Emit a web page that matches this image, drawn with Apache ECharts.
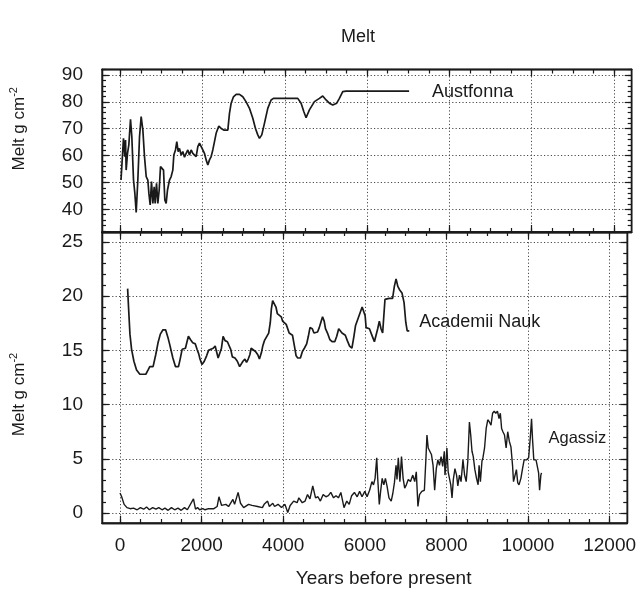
<!DOCTYPE html>
<html><head><meta charset="utf-8">
<script src="https://cdn.jsdelivr.net/npm/echarts@6/dist/echarts.min.js"></script>
<style>html,body{margin:0;padding:0;background:#fff}#c{width:639px;height:592px}</style>
</head><body><div id="c"></div>
<script>
// ---- tick values ----
const xTickValues = [0, 2000, 4000, 6000, 8000, 10000, 12000];
const topTickValues = [40, 50, 60, 70, 80, 90];
const bottomTickValues = [0, 5, 10, 15, 20, 25];

// ---- Austfonna (top panel) ----
const austfonnaYears = [20,80,113,130,145,178,210,251,283,324,356,389,429,470,510,551,591,632,672,697,729,761,794,826,850,883,915,948,980,1020,1053,1085,1117,1150,1198,1239,1279,1304,1344,1376,1409,1441,1482,1522,1563,1603,1644,1684,1725,1765,1806,1846,1887,1927,1968,2008,2049,2089,2130,2170,2211,2251,2292,2332,2397,2454,2518,2616,2656,2697,2753,2818,2899,2980,3061,3142,3223,3288,3344,3385,3441,3506,3587,3668,3725,4316,4397,4462,4518,4599,4721,4842,4923,5004,5085,5166,5263,5328,5409,5490,7022];
const austfonnaMelt = [50.9,66.4,59.6,65.8,54.6,60.8,64,73.5,67,50.9,46,38.8,50.9,67,74.5,69.5,59.6,52.2,50.9,46,41.6,50.3,42.2,48.4,42.2,49.7,42.2,47.2,55.9,56.5,54.6,43.5,42.2,47.2,50.9,52.2,54.6,60.2,62.1,65.2,61.5,62.7,60.2,61.5,59.4,60.8,62.1,60.2,62.1,60.8,61.5,59.6,63.3,64.6,64,62.1,60.8,58.4,56.5,58.4,59.6,62.1,65.2,68.3,71,70.1,69.5,69.5,75.7,79.5,81.9,82.8,82.8,81.9,80,77.6,73.9,70.1,67.7,66.4,67.7,72,77.6,80.7,81.3,81.3,79.5,76.4,74.1,77,80.1,81.3,82.2,80.7,79.5,78.8,79.5,81.3,83.8,84,84];

// ---- Academii Nauk (bottom panel) ----
const academiiYears = [186,211,243,283,340,405,486,567,632,689,729,810,875,931,988,1053,1117,1174,1214,1255,1295,1360,1433,1474,1522,1555,1603,1636,1676,1725,1782,1846,1887,1927,1960,2008,2065,2122,2170,2227,2284,2332,2365,2405,2454,2486,2526,2575,2632,2672,2713,2753,2818,2875,2932,2972,3013,3061,3101,3142,3182,3214,3263,3320,3377,3417,3466,3498,3539,3587,3644,3684,3709,3741,3782,3822,3855,3903,3952,3984,4033,4073,4114,4146,4186,4227,4275,4316,4356,4421,4470,4518,4575,4616,4656,4713,4753,4794,4842,4883,4923,4964,5004,5036,5085,5142,5198,5263,5312,5360,5401,5441,5482,5522,5571,5627,5684,5733,5773,5830,5887,5935,5976,6008,6032,6073,6113,6154,6194,6235,6275,6316,6356,6397,6437,6478,6494,6596,6681,6724,6766,6809,6851,6911,6962,7004,7039,7090];
const academiiMelt = [20.7,18.8,16.5,15.1,14.0,13.2,12.8,12.8,12.8,13.2,13.5,13.5,14.6,15.7,16.5,16.9,16.9,16.2,15.6,15.6,14.3,13.5,13.5,14.2,15.1,15.2,15.2,15.7,16.3,16.0,15.7,15.6,15.1,14.7,14.2,13.7,14.0,14.5,15.0,15.1,15.2,15.4,14.9,14.3,14.3,15.2,16.3,15.9,15.8,15.8,15.1,14.4,14.3,14.0,13.5,13.5,14.0,14.2,13.9,14.2,14.6,15.2,15.1,14.9,14.6,14.2,14.8,15.4,15.9,16.0,16.6,17.6,18.8,19.6,19.6,19.0,18.4,18.4,18.1,17.7,17.6,17.4,17.3,16.6,16.5,16.4,15.4,14.5,14.3,14.3,14.9,15.2,15.6,16.3,17.1,17.0,16.6,16.5,16.7,17.1,17.6,18.1,17.7,17.0,16.6,16.0,15.8,15.8,16.3,17.0,16.9,16.6,16.5,16.4,15.9,15.4,15.2,16.3,17.3,17.9,18.5,19.0,19.0,18.2,17.1,17.1,17.0,17.0,16.2,15.8,15.8,17.0,17.7,17.0,16.6,16.6,19.7,19.8,19.8,20.9,21.6,20.9,20.6,20.3,19.4,17.6,16.8,16.8];

// ---- Agassiz (bottom panel) ----
const agassizYears = [0,40,100,170,250,330,420,500,580,650,720,800,880,950,1030,1100,1180,1260,1340,1420,1500,1580,1650,1800,1850,1900,1950,2030,2085,2170,2300,2380,2425,2490,2595,2660,2766,2808,2894,2953,3030,3150,3235,3370,3490,3532,3617,3660,3745,3788,3873,3958,4043,4111,4170,4256,4341,4383,4468,4536,4596,4655,4724,4792,4851,4911,4979,5047,5107,5166,5234,5294,5353,5413,5490,5558,5617,5677,5745,5813,5873,5932,6000,
  6055,6118,6174,6213,6252,6292,6316,6355,6387,6426,6466,6505,6544,6592,6647,6686,6726,6765,6789,6821,6860,6899,6939,6978,7018,7065,7120,7176,7223,7262,7302,7341,7397,7460,7499,7523,7554,7594,7633,7673,7712,7752,7791,7830,7870,7909,7949,7965,7988,8012,8043,8075,8107,8138,8170,8209,8249,8280,8320,8359,8406,8446,8485,8525,8564,8596,8627,8659,8698,8738,8777,8801,8833,8872,8896,8935,8975,9014,9053,9093,9132,9172,9211,9251,9290,9322,9353,9385,9424,9464,9503,9543,9582,9621,9645,9684,9716,9748,9779,9826,9866,9905,9960,10016,10055,10087,10110,10142,10197,10237,10260,10284,10315,10331];
const agassizMelt = [1.85,1.5,0.8,0.5,0.4,0.45,0.3,0.5,0.35,0.55,0.3,0.5,0.35,0.5,0.3,0.45,0.25,0.5,0.3,0.45,0.25,0.5,0.3,1.3,0.35,0.5,0.3,0.4,0.3,0.4,0.4,0.6,1.5,0.7,0.8,0.6,1.25,0.8,1.9,0.9,0.5,0.8,0.7,0.6,0.5,0.8,1.1,0.6,0.9,0.6,0.8,0.5,0.8,0.05,0.7,1.1,0.95,1.4,0.95,1.1,1.7,1.3,2.5,1.4,1.5,1.1,1.7,1.5,1.6,1.9,1.4,1.6,1.4,1.9,0.5,1.1,0.8,1.6,1.9,1.5,2.0,1.5,2.0,
  1.5,2.1,2.9,2.6,3.2,5.1,3.2,0.8,2.0,3.2,2.6,3.2,2.5,1.4,1.1,1.8,2.8,4.4,3.1,5.1,2.9,5.2,3.2,2.3,2.6,3.1,2.9,3.5,2.9,3.8,0.6,1.7,2.0,2.1,5.1,7.2,6.0,6.1,5.4,4.4,2.1,4.1,4.9,4.4,5.2,4.3,5.7,3.5,4.4,6.0,3.8,3.2,2.6,1.4,3.1,4.1,3.5,2.5,3.5,2.9,4.9,3.5,2.9,4.8,8.4,7.2,5.7,5.2,4.0,3.2,2.6,4.4,2.9,4.8,5.1,6.0,7.8,8.6,8.4,8.1,9.2,9.4,9.2,9.4,8.7,9.2,7.8,7.5,7.2,6.0,7.5,6.6,6.1,4.4,2.9,2.8,4.0,2.8,2.6,3.2,4.1,4.9,4.9,5.1,6.9,8.7,6.9,4.9,4.9,4.8,3.7,2.1,3.5,3.7];

const zip = (a, b) => a.map((v, i) => [v, b[i]]);
const steps = (from, to, step) => { const r = []; for (let v = from; v <= to + 1e-9; v += step) r.push(+v.toFixed(3)); return r; };

const FONT = 'Liberation Sans, Arial, Helvetica, sans-serif';
const INK = '#1a1a1a';
const X_MIN = -442, X_MAX = 12432;
const TOP_MIN = 31.55, TOP_MAX = 92.05;
const BOT_MIN = -0.92, BOT_MAX = 25.92;

const xMinor = steps(0, 12000, 500);
const topMinor = steps(32, 92, 2);
const botMinor = steps(0, 25, 1);

const dotted = { color: '#4a4a4a', width: 1, type: [1.2, 2.2] };
const plain = v => String(v);

function ax(grid, pos, min, max, ticks, len, extra) {
  const o = {
    type: 'value', gridIndex: grid, position: pos, min: min, max: max,
    axisLine: { show: true, onZero: false, lineStyle: { color: INK, width: 1.3 } },
    axisTick: { show: true, inside: true, length: len, customValues: ticks, lineStyle: { color: INK, width: 1.2 } },
    axisLabel: { show: false },
    splitLine: { show: false },
    minorTick: { show: false }
  };
  return Object.assign(o, extra || {});
}

const yName = {
  nameLocation: 'middle', nameGap: 72, nameRotate: 90,
  name: '{a|Melt g cm}{b|-2}'
};
function yNameStyle(pad) {
  return {
    fontFamily: FONT, fontSize: 17, color: INK, padding: pad,
    rich: {
      a: { fontFamily: FONT, fontSize: 17, color: INK, lineHeight: 22 },
      b: { fontFamily: FONT, fontSize: 11, color: INK, lineHeight: 11, verticalAlign: 'top' }
    }
  };
}

const option = {
  animation: false,
  backgroundColor: '#ffffff',
  title: {
    text: 'Melt', left: 358, top: 28, textAlign: 'center', padding: 0,
    textStyle: { fontFamily: FONT, fontSize: 18, fontWeight: 'normal', color: INK }
  },
  grid: [
    { left: 101.7, top: 69.5, width: 530, height: 162.5, show: true, borderColor: INK, borderWidth: 1.3, backgroundColor: 'transparent' },
    { left: 101.7, top: 232, width: 530, height: 291, show: true, borderColor: INK, borderWidth: 1.3, backgroundColor: 'transparent' }
  ],
  xAxis: [
    ax(0, 'bottom', X_MIN, X_MAX, xTickValues, 7, { splitLine: { show: true, lineStyle: dotted } }),
    ax(0, 'bottom', X_MIN, X_MAX, xMinor, 4),
    ax(0, 'top', X_MIN, X_MAX, xTickValues, 7),
    ax(0, 'top', X_MIN, X_MAX, xMinor, 4),
    ax(1, 'bottom', X_MIN, X_MAX, xTickValues, 7, {
      splitLine: { show: true, lineStyle: dotted },
      axisLabel: { show: true, customValues: xTickValues, formatter: plain, fontFamily: FONT, fontSize: 19, color: INK, margin: 13 },
      name: 'Years before present', nameLocation: 'middle', nameGap: 46,
      nameTextStyle: { fontFamily: FONT, fontSize: 19, color: INK, padding: [0, 0, 0, 38] }
    }),
    ax(1, 'bottom', X_MIN, X_MAX, xMinor, 4),
    ax(1, 'top', X_MIN, X_MAX, xTickValues, 7),
    ax(1, 'top', X_MIN, X_MAX, xMinor, 4)
  ],
  yAxis: [
    ax(0, 'left', TOP_MIN, TOP_MAX, topTickValues, 7, Object.assign({
      splitLine: { show: true, lineStyle: dotted },
      axisLabel: { show: true, customValues: topTickValues, formatter: plain, fontFamily: FONT, fontSize: 19, color: INK, margin: 19 },
      nameTextStyle: yNameStyle([0, 0, 0, 44])
    }, yName)),
    ax(0, 'left', TOP_MIN, TOP_MAX, topMinor, 4),
    ax(0, 'right', TOP_MIN, TOP_MAX, topTickValues, 7),
    ax(0, 'right', TOP_MIN, TOP_MAX, topMinor, 4),
    ax(1, 'left', BOT_MIN, BOT_MAX, bottomTickValues, 7, Object.assign({
      splitLine: { show: true, lineStyle: dotted },
      axisLabel: { show: true, customValues: bottomTickValues, formatter: plain, fontFamily: FONT, fontSize: 19, color: INK, margin: 19 },
      nameTextStyle: yNameStyle([0, 34, 0, 0])
    }, yName)),
    ax(1, 'left', BOT_MIN, BOT_MAX, botMinor, 4),
    ax(1, 'right', BOT_MIN, BOT_MAX, bottomTickValues, 7),
    ax(1, 'right', BOT_MIN, BOT_MAX, botMinor, 4)
  ],
  series: [
    {
      name: 'Austfonna', type: 'line', xAxisIndex: 0, yAxisIndex: 0,
      data: zip(austfonnaYears, austfonnaMelt), showSymbol: false, symbol: 'none',
      lineStyle: { color: INK, width: 1.7 }, z: 5,
      endLabel: { show: true, formatter: '{a}', distance: 23, offset: [0, 1], fontFamily: FONT, fontSize: 18, color: INK }
    },
    {
      name: 'Academii Nauk', type: 'line', xAxisIndex: 4, yAxisIndex: 4,
      data: zip(academiiYears, academiiMelt), showSymbol: false, symbol: 'none',
      lineStyle: { color: INK, width: 1.7 }, z: 5,
      endLabel: { show: true, formatter: '{a}', distance: 10, offset: [0, -9], fontFamily: FONT, fontSize: 18, color: INK }
    },
    {
      name: 'Agassiz', type: 'line', xAxisIndex: 4, yAxisIndex: 4,
      data: zip(agassizYears, agassizMelt), showSymbol: false, symbol: 'none',
      lineStyle: { color: INK, width: 1.4 }, z: 5,
      endLabel: { show: true, formatter: '{a}', distance: 7, offset: [0, -34], fontFamily: FONT, fontSize: 16.5, color: INK }
    }
  ]
};

const chart = echarts.init(document.getElementById('c'), null, { renderer: 'canvas' });
chart.setOption(option);
</script>
</body></html>
